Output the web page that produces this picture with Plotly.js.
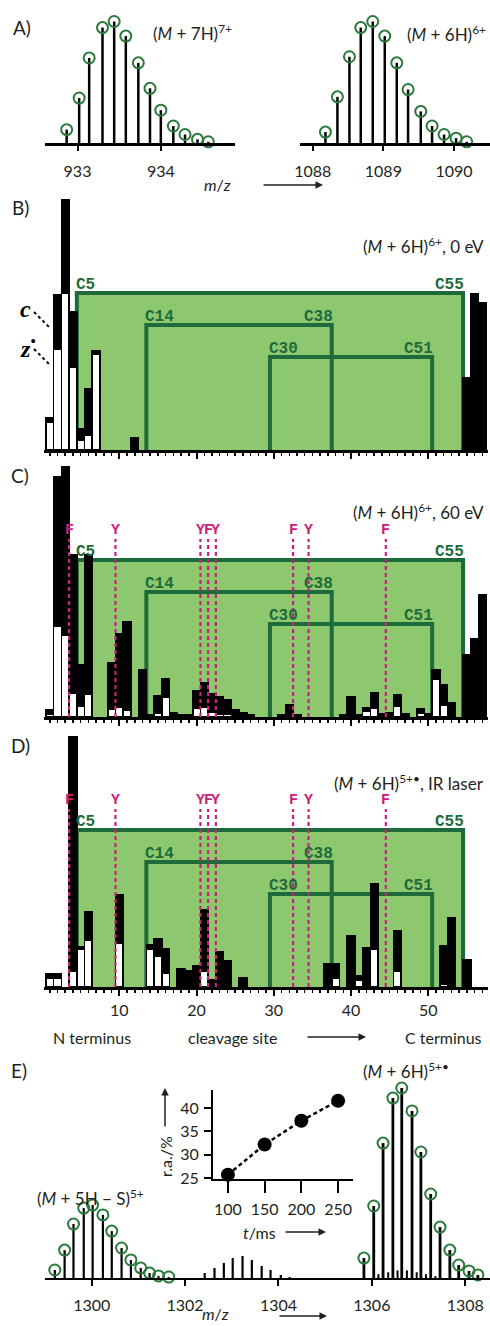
<!DOCTYPE html>
<html><head><meta charset="utf-8">
<script src="https://cdn.plot.ly/plotly-3.0.1.min.js"></script>
<style>html,body{margin:0;padding:0;background:#fff}#chart{width:490px;height:1326px}</style>
</head><body><div id="chart"></div>
<script>
// ---------- Panel A: isotope distributions (relative intensity, %) ----------
const a7Mz = [932.87,933.02,933.14,933.30,933.44,933.58,933.73,933.87,934.00,934.15,934.29,934.44,934.57];
const a7Int = [11,37,70,95,100,88,66,45,27,14,7,3,1];
const a6Mz = [1088.18,1088.35,1088.52,1088.68,1088.85,1089.02,1089.19,1089.35,1089.53,1089.69,1089.86,1090.03,1090.18];
const a6Int = [9,38,71,95,100,88,66,44,26,14,7,4,1];

// ---------- Panels B-D: fragment abundances per cleavage site ----------
// z ions (white, bottom) and c ions (black, stacked on top)
const bSites = [1,2,3,4,5,6,7,12,55,56,57];
const bZ = [28,101,157,83,10,15,96,0,0,0,0];
const bC = [4,54,93,55,11,46,3,12,72,156,147];

const cSites = [1,2,3,4,5,6,9,10,11,13,14,15,16,17,18,19,20,21,22,23,24,25,26,27,31,32,33,39,40,41,42,43,44,45,46,47,49,50,51,52,53,55,56,57];
const cZ = [3,91,82,24,11,23,8,10,7,0,0,4,20,0,0,0,9,10,5,3,3,0,0,0,0,2,0,0,1,0,6,9,0,0,11,0,4,0,38,12,0,0,0,0];
const cC = [4,149,168,138,41,139,46,73,88,47,2,17,18,4,2,2,17,24,18,17,14,7,4,2,2,10,2,2,19,2,3,15,3,4,11,3,4,3,9,20,14,62,78,122];

const dSites = [1,2,4,5,6,10,14,15,16,18,19,20,21,22,23,24,26,37,38,40,41,42,43,46,52,53,55];
const dZ = [9,9,16,38,47,44,38,31,14,0,0,0,16,0,0,0,0,0,9,0,7,0,38,16,3,0,0];
const dC = [4,4,234,2,28,48,4,17,24,18,16,21,61,7,35,26,9,23,14,51,4,39,65,40,38,69,27];

// disulfide bridges (cysteine residue numbers) and bracket levels
const bridgePairs = [[5,55],[14,38],[30,51]];
const bridgeLevels = [157,125,93];
// aromatic residues marked in C and D
const aroSites = [4,10,21,22,23,33,35,45];
const aroLabels = ['F','Y','Y','F','Y','F','Y','F'];

// ---------- Panel E ----------
const eLeftMz = [1299.21,1299.42,1299.61,1299.83,1300.02,1300.24,1300.43,1300.64,1300.84,1301.05,1301.24,1301.43,1301.65];
const eLeftInt = [4.2,14.7,28.4,36.8,38.4,33.2,24.7,15.8,9.5,5.3,2.6,1.1,0.5];
const eMidMz = [1302.42,1302.63,1302.83,1303.02,1303.23,1303.43,1303.64,1303.83,1304.05,1304.24];
const eMidInt = [2.6,5.3,7.9,10.5,11.6,9.5,6.3,4.2,1.6,0.5];
const eRightMz = [1305.83,1306.04,1306.24,1306.45,1306.64,1306.86,1307.05,1307.26,1307.46,1307.67,1307.86,1308.08,1308.27];
const eRightInt = [10.5,37.9,71.0,94.7,100,87.9,66.3,44.2,26.8,14.7,6.8,3.7,1.6];
const eMinorMz = [1306.14,1306.35,1306.55,1306.75,1306.96,1307.16,1307.36];
const eMinorInt = [2,3,4,4,3,2,1];
// inset
const tMs = [100,150,200,250];
const raPct = [25.7,32.2,37.3,41.6];

// ---------- helpers ----------
const W = 490, H = 1326;
const px = v => v / W, py = v => 1 - v / H;
const FONT = 'Lato, "Open Sans", sans-serif';
const TXT = '#231f20';
const GREEN_C = '#2a7a3c';
const FILL = '#8dc86f';
const DARK = '#1d6b3a';
const MAG = '#c9217d';

function sticks(mz, h, xa, ya, w) {
  const x = [], y = [];
  mz.forEach((m, i) => { x.push(m, m, null); y.push(0, h[i], null); });
  return {type:'scatter', mode:'lines', x, y, xaxis:xa, yaxis:ya, line:{color:'#000', width:w}, hoverinfo:'skip'};
}
function rings(mz, h, xa, ya) {
  return {type:'scatter', mode:'markers', x:mz, y:h, xaxis:xa, yaxis:ya, cliponaxis:false,
    marker:{symbol:'circle-open', size:11, color:GREEN_C, line:{width:2, color:GREEN_C}}, hoverinfo:'skip'};
}
function bars(sites, z, c, xa, ya) {
  return [
    {type:'bar', x:sites, y:z, xaxis:xa, yaxis:ya, width:1, marker:{color:'#fff', line:{color:'#000', width:1.6}}, hoverinfo:'skip'},
    {type:'bar', x:sites, y:c, xaxis:xa, yaxis:ya, width:1, marker:{color:'#000', line:{color:'#000', width:1.6}}, hoverinfo:'skip'}
  ];
}

const traces = [
  sticks(a7Mz, a7Int, 'x', 'y', 2.5), rings(a7Mz, a7Int, 'x', 'y'),
  sticks(a6Mz, a6Int, 'x2', 'y2', 2.5), rings(a6Mz, a6Int, 'x2', 'y2'),
  ...bars(bSites, bZ, bC, 'x3', 'y3'),
  ...bars(cSites, cZ, cC, 'x4', 'y4'),
  ...bars(dSites, dZ, dC, 'x5', 'y5'),
  sticks(eLeftMz, eLeftInt, 'x6', 'y6', 2.2), sticks(eMidMz, eMidInt, 'x6', 'y6', 2.2),
  sticks(eRightMz, eRightInt, 'x6', 'y6', 2.8), sticks(eMinorMz, eMinorInt, 'x6', 'y6', 2),
  rings(eLeftMz, eLeftInt, 'x6', 'y6'), rings(eRightMz, eRightInt, 'x6', 'y6'),
  {type:'scatter', mode:'lines+markers', x:tMs, y:raPct, xaxis:'x7', yaxis:'y7', cliponaxis:false,
   line:{color:'#000', width:2.5, dash:'4px,3px'}, marker:{color:'#000', size:14}, hoverinfo:'skip'}
];

// ---------- axes ----------
const hiddenY = (dom, rng, anchor) => ({domain:dom, range:rng, anchor, visible:false, fixedrange:true});
const baseX = {showline:true, linecolor:'#000', linewidth:2.5, ticks:'outside', tickcolor:'#000', tickwidth:2,
  showgrid:false, zeroline:false, tickfont:{family:FONT, size:16, color:TXT}, fixedrange:true};
const siteAxis = (anchor, labels) => Object.assign({}, baseX, {
  domain:[px(44), px(488)], range:[0.25, 57.73], anchor, dtick:10, tick0:0, ticklen:6,
  showticklabels:labels, ticklabelstandoff:1,
  minor:{dtick:1, tick0:0, ticks:'outside', ticklen:3, tickwidth:1.5, tickcolor:'#000', showgrid:false}
});

const layout = {
  width:W, height:H, margin:{l:0, r:0, t:0, b:0}, paper_bgcolor:'#fff', plot_bgcolor:'rgba(0,0,0,0)',
  showlegend:false, barmode:'stack', bargap:0, font:{family:FONT, color:TXT},
  xaxis: Object.assign({}, baseX, {domain:[px(45), px(235)], range:[932.61, 934.89], anchor:'y', dtick:1, ticklen:5, ticklabelstandoff:7}),
  yaxis: hiddenY([py(143), py(13)], [0, 107], 'x'),
  xaxis2: Object.assign({}, baseX, {domain:[px(300), 1], range:[1087.82, 1090.51], anchor:'y2', dtick:1, ticklen:5, ticklabelstandoff:7}),
  yaxis2: hiddenY([py(143), py(13)], [0, 107], 'x2'),
  xaxis3: siteAxis('y3', false), yaxis3: hiddenY([py(450), py(195)], [0, 255], 'x3'),
  xaxis4: siteAxis('y4', false), yaxis4: hiddenY([py(717), py(462)], [0, 255], 'x4'),
  xaxis5: siteAxis('y5', true),  yaxis5: hiddenY([py(987), py(732)], [0, 255], 'x5'),
  xaxis6: Object.assign({}, baseX, {domain:[px(45), 1], range:[1299.0, 1308.53], anchor:'y6', dtick:2, tick0:0, ticklen:6, linewidth:2, ticklabelstandoff:6}),
  yaxis6: hiddenY([py(1278), py(1080)], [0, 104.2], 'x6'),
  xaxis7: Object.assign({}, baseX, {domain:[px(213), px(353)], range:[79.7, 270.3], anchor:'y7', tickvals:[100,150,200,250], ticklen:12, linewidth:2, ticklabelstandoff:3}),
  yaxis7: {domain:[py(1178.5), py(1090)], range:[24.9, 43.9], anchor:'x7', showline:true, linecolor:'#000', linewidth:2,
    ticks:'outside', ticklen:7, tickwidth:2, tickcolor:'#000', tickvals:[25,30,35,40], showgrid:false, zeroline:false,
    tickfont:{family:FONT, size:16, color:TXT}, ticklabelstandoff:2, fixedrange:true},
  shapes:[], annotations:[]
};

// green disulfide boxes, brackets, aromatic markers
const panels = [['x3','y3',false], ['x4','y4',true], ['x5','y5',true]];
panels.forEach(([xa, ya, aro]) => {
  const outer = bridgePairs[0];
  layout.shapes.push({type:'rect', xref:xa, yref:ya, x0:outer[0]-0.5, x1:outer[1]-0.5, y0:0, y1:bridgeLevels[0],
    fillcolor:FILL, line:{width:0}, layer:'below'});
  bridgePairs.forEach((p, i) => {
    const x0 = p[0]-0.5, x1 = p[1]-0.5, h = bridgeLevels[i];
    layout.shapes.push({type:'path', xref:xa, yref:ya, path:`M ${x0},0 L ${x0},${h} L ${x1},${h} L ${x1},0`,
      line:{color:DARK, width:4}, layer:'below'});
    const f = {family:'"Liberation Mono", monospace', size:16, color:DARK};
    layout.annotations.push({xref:xa, yref:ya, x:x0, y:h, xanchor:'left', yanchor:'bottom', xshift:-3, yshift:-3,
      text:'<b>C'+p[0]+'</b>', showarrow:false, font:f});
    layout.annotations.push({xref:xa, yref:ya, x:x1, y:h, xanchor:'right', yanchor:'bottom', xshift:3, yshift:-3,
      text:'<b>C'+p[1]+'</b>', showarrow:false, font:f});
  });
  if (aro) {
    aroSites.forEach((s, i) => {
      layout.shapes.push({type:'line', xref:xa, yref:ya, x0:s-0.5, x1:s-0.5, y0:0, y1:178,
        line:{color:MAG, width:2.2, dash:'4px,3px'}, layer:'above'});
      layout.annotations.push({xref:xa, yref:ya, x:s-0.5, y:187, xanchor:'center', yanchor:'middle',
        text:'<b>'+aroLabels[i]+'</b>', showarrow:false,
        font:{family:'"Liberation Mono", monospace', size:15, color:MAG}});
    });
  }
});

// text labels (paper coordinates)
const T = (x, y, text, opts={}) => Object.assign({xref:'paper', yref:'paper', x:px(x), y:py(y), text, showarrow:false,
  xanchor:'center', yanchor:'middle', font:{family:FONT, size:17, color:TXT}}, opts);
const ARW = (x, y, ax, ay) => ({xref:'paper', yref:'paper', x:px(x), y:py(y), ax, ay, text:'', showarrow:true,
  arrowhead:2, arrowsize:1, arrowwidth:1.5, arrowcolor:TXT, standoff:0, startstandoff:0});
const big = {font:{family:FONT, size:19, color:TXT}};
const mid = {font:{family:FONT, size:16, color:TXT}};
layout.annotations.push(
  T(22, 27, 'A)', big),
  T(192, 32, '(<i>M</i> + 7H)<sup>7+</sup>'),
  T(446, 33, '(<i>M</i> + 6H)<sup>6+</sup>'),
  T(217, 185, '<i>m</i>/<i>z</i>', mid), ARW(323, 185, -61, 0),
  T(20, 207, 'B)', big),
  T(486, 245, '(<i>M</i> + 6H)<sup>6+</sup>, 0 eV', {xanchor:'right'}),
  T(25, 309, '<b><i>c</i></b>', {font:{family:'"Liberation Serif", serif', size:24, color:'#000'}}),
  T(28, 347, '<b><i>z</i></b><sup>•</sup>', {font:{family:'"Liberation Serif", serif', size:24, color:'#000'}}),
  T(20, 475, 'C)', big),
  T(486, 512, '(<i>M</i> + 6H)<sup>6+</sup>, 60 eV', {xanchor:'right'}),
  T(20, 745, 'D)', big),
  T(486, 782, '(<i>M</i> + 6H)<sup>5+•</sup>, IR laser', {xanchor:'right'}),
  T(92, 1037, 'N terminus', mid),
  T(232, 1037, 'cleavage site', mid),
  ARW(366, 1037, -60, 0),
  T(443, 1037, 'C terminus', mid),
  T(19, 1070, 'E)', big),
  T(406, 1070, '(<i>M</i> + 6H)<sup>5+•</sup>'),
  T(90, 1197, '(<i>M</i> + 5H − S)<sup>5+</sup>'),
  T(165, 1157, 'r.a./%', {textangle:-90, font:{family:FONT, size:16, color:TXT}}),
  ARW(165, 1088, 0, 40),
  T(259, 1232, '<i>t</i>/ms', mid),
  ARW(326, 1232, -42, 0),
  T(215, 1313, '<i>m</i>/<i>z</i>', mid),
  ARW(327, 1316, -49, 0)
);
// leader lines for c / z labels
layout.shapes.push(
  {type:'line', xref:'paper', yref:'paper', x0:px(34), y0:py(312), x1:px(51), y1:py(329), line:{color:'#000', width:2, dash:'dot'}},
  {type:'line', xref:'paper', yref:'paper', x0:px(34), y0:py(349), x1:px(51), y1:py(366), line:{color:'#000', width:2, dash:'dot'}}
);

Plotly.newPlot('chart', traces, layout, {staticPlot:true, displayModeBar:false});
</script></body></html>
